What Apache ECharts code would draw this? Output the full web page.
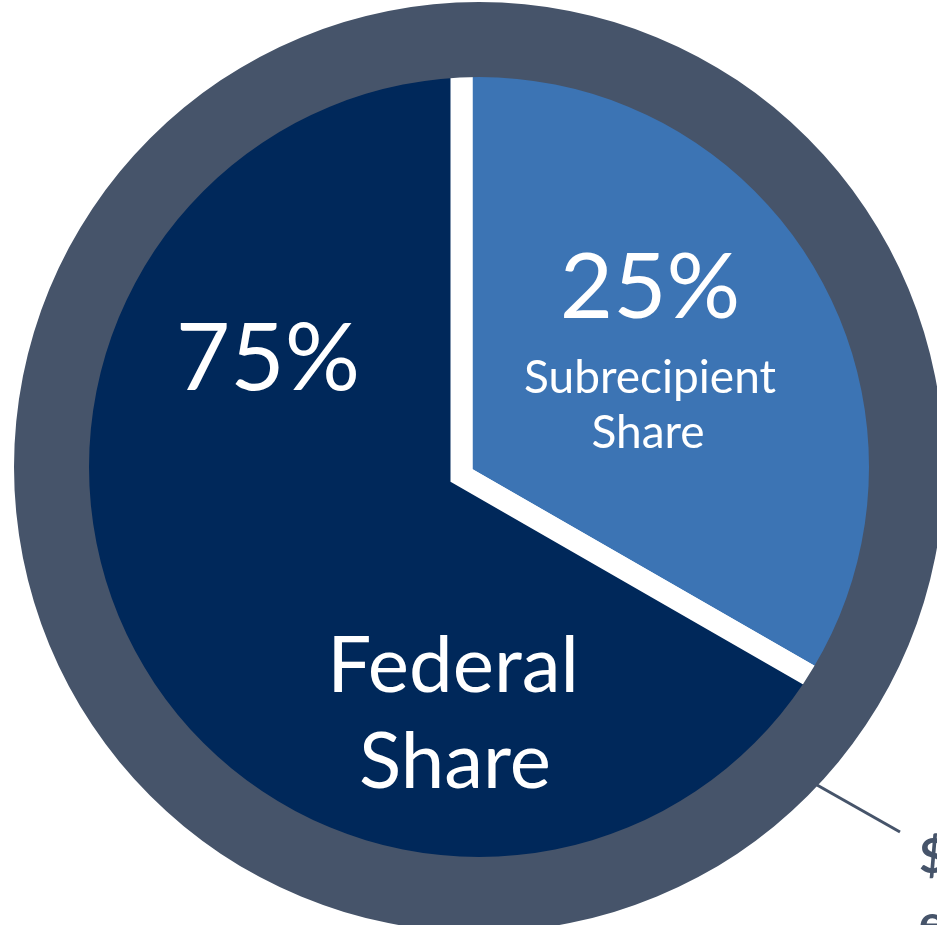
<!DOCTYPE html>
<html>
<head>
<meta charset="utf-8">
<title>Federal / Subrecipient share</title>
<script src="https://cdn.jsdelivr.net/npm/echarts@6/dist/echarts.min.js"></script>
<style>
  html, body { margin: 0; padding: 0; background: #fff; }
  #chart { width: 937px; height: 925px; }
</style>
</head>
<body>
<div id="chart"></div>
<script>
// slices, in drawing order (clockwise from 12 o'clock)
const sliceNames = ['Subrecipient Share', 'Federal Share']
const shareLabels = ['25%', '75%']
// size of each slice as drawn in the picture (the light one covers a third)
const sliceValues = [33.3, 66.7]
const sliceColors = ['#3c74b4', '#00285a']
// callout text cut off at the right edge
const calloutLines = ['$', 'e']

const ringColor = '#46546a'
const font = 'Lato, "Open Sans", sans-serif'

let myChart = echarts.init(document.getElementById('chart'))

function label (text, x, y, size, weight, color) {
  return {
    type: 'text',
    x: x,
    y: y,
    z: 10,
    style: {
      text: text,
      fill: color || '#fff',
      font: (weight || 'normal') + ' ' + size + 'px ' + font,
      textAlign: 'center',
      textVerticalAlign: 'middle'
    }
  }
}

let pieData = sliceNames.map((name, i) => ({
  name: name,
  value: sliceValues[i],
  itemStyle: { color: sliceColors[i] }
}))

let subWords = sliceNames[0].split(' ')
let fedWords = sliceNames[1].split(' ')

myChart.setOption({
  animation: false,
  backgroundColor: '#fff',
  series: [
    {
      // the two slices, from their shared corner
      type: 'pie',
      center: [461.5, 475.5],
      radius: [0, 428],
      startAngle: 90,
      clockwise: true,
      silent: true,
      label: { show: false },
      labelLine: { show: false },
      itemStyle: {
        borderColor: '#fff',
        borderWidth: 22,
        borderJoin: 'miter'
      },
      data: pieData
    },
    {
      // outer ring framing the pie
      type: 'pie',
      z: 3,
      center: [479, 467],
      radius: [390, 465],
      silent: true,
      label: { show: false },
      labelLine: { show: false },
      itemStyle: { color: ringColor },
      data: [{ value: 1, name: 'ring' }]
    }
  ],
  graphic: [
    label(shareLabels[1], 268, 360, 94),
    label(shareLabels[0], 650, 288, 92),
    label(subWords[0], 650, 378, 46),
    label(subWords[1], 648, 433, 46),
    label(fedWords[0], 453, 667, 78),
    label(fedWords[1], 455, 763, 78),
    {
      type: 'polyline',
      z: 10,
      shape: { points: [[817, 785], [900, 832]] },
      style: { stroke: ringColor, lineWidth: 3 }
    },
    {
      type: 'text',
      x: 919,
      y: 858,
      z: 10,
      style: {
        text: calloutLines[0],
        fill: ringColor,
        font: 'bold 48px ' + font,
        textAlign: 'left',
        textVerticalAlign: 'middle'
      }
    },
    {
      type: 'text',
      x: 919,
      y: 924,
      z: 10,
      style: {
        text: calloutLines[1],
        fill: ringColor,
        font: 'bold 48px ' + font,
        textAlign: 'left',
        textVerticalAlign: 'middle'
      }
    }
  ]
})
</script>
</body>
</html>
